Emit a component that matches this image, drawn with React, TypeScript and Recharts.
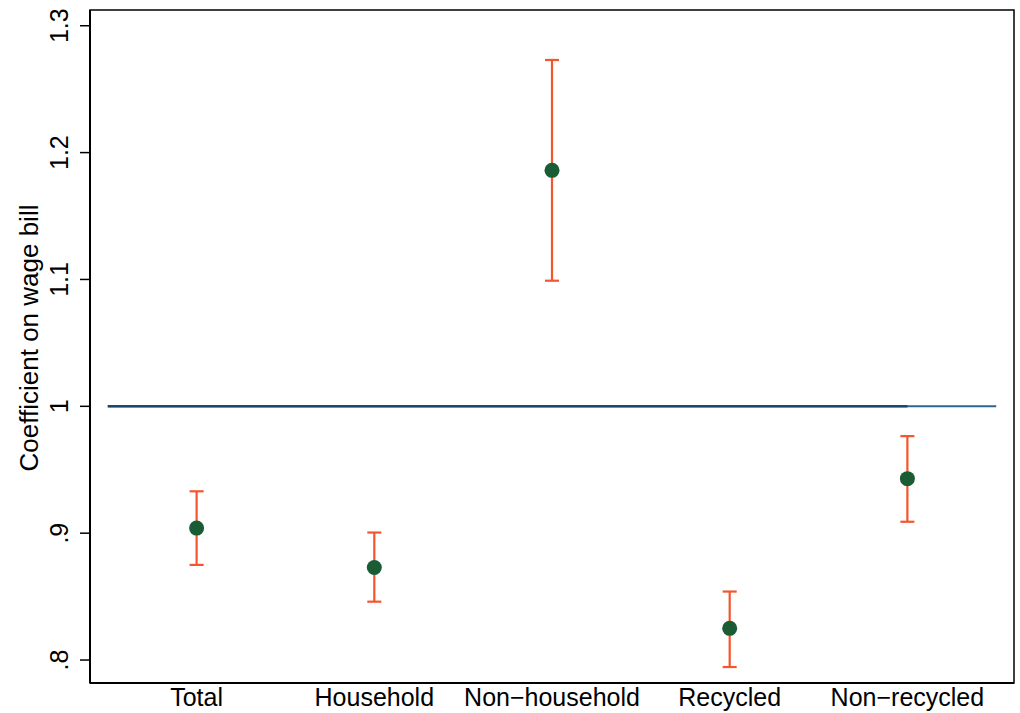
import {
  ComposedChart,
  Scatter,
  ErrorBar,
  XAxis,
  YAxis,
  ReferenceLine,
  ReferenceArea,
} from "recharts";

const categories = ["Total", "Household", "Non\u2212household", "Recycled", "Non\u2212recycled"];
const positions = [1, 2, 3, 4, 5];
const coef = [0.904, 0.873, 1.186, 0.825, 0.943];
const ciLow = [0.875, 0.846, 1.099, 0.7945, 0.909];
const ciHigh = [0.933, 0.9005, 1.273, 0.854, 0.9765];
const yTicks = [0.8, 0.9, 1, 1.1, 1.2, 1.3];
const yTickLabels = [".8", ".9", "1", "1.1", "1.2", "1.3"];
const refValue = 1;
const refSpan = [0.5, 5.5];

const data = positions.map((x, i) => ({
  x,
  y: coef[i],
  err: [coef[i] - ciLow[i], ciHigh[i] - coef[i]],
}));

const FONT = "'Liberation Sans', Arial, Helvetica, sans-serif";
const DOT = "#1a5c33";
const BAR = "#f5552c";
const LINE = "#1a476f";

function XTick({ x, payload }: any) {
  return (
    <text x={x} y={706} textAnchor="middle" fontSize={25} fontFamily={FONT} fill="#000">
      {categories[payload.value - 1]}
    </text>
  );
}

function YTick({ y, payload }: any) {
  const i = yTicks.indexOf(payload.value);
  const bx = 68;
  return (
    <text
      x={bx}
      y={y}
      transform={`rotate(-90, ${bx}, ${y})`}
      textAnchor="middle"
      fontSize={25}
      fontFamily={FONT}
      fill="#000"
    >
      {yTickLabels[i]}
    </text>
  );
}

export default function App() {
  return (
    <div style={{ position: "absolute", left: 0, top: 0, background: "#fff" }}>
      <ComposedChart
        width={1020}
        height={713}
        data={data}
        margin={{ top: 10, right: 6, left: 0, bottom: 0 }}
      >
        <XAxis
          type="number"
          dataKey="x"
          domain={[0.4, 5.6]}
          ticks={positions}
          tick={<XTick />}
          tickLine={false}
          axisLine={{ stroke: "#000", strokeWidth: 2 }}
          height={30}
          allowDataOverflow
        />
        <YAxis
          type="number"
          dataKey="y"
          domain={[0.7819, 1.3124]}
          ticks={yTicks}
          tick={<YTick />}
          tickSize={10}
          tickLine={{ stroke: "#000", strokeWidth: 1.5 }}
          axisLine={{ stroke: "#000", strokeWidth: 2 }}
          width={90}
          allowDataOverflow
          label={
            <text
              x={37}
              y={346}
              transform="rotate(-90, 37, 346)"
              textAnchor="middle"
              fontSize={26}
              fontFamily={FONT}
              fill="#000"
            >
              Coefficient on wage bill
            </text>
          }
        />
        <ReferenceArea
          x1={0.4}
          x2={5.6}
          y1={0.7819}
          y2={1.3124}
          fill="none"
          stroke="#000"
          strokeWidth={1.5}
          ifOverflow="visible"
        />
        <ReferenceLine
          segment={[
            { x: refSpan[0], y: refValue },
            { x: refSpan[1], y: refValue },
          ]}
          stroke="#2f6592"
          strokeWidth={2}
        />
        <ReferenceLine
          segment={[
            { x: refSpan[0], y: refValue },
            { x: positions[4], y: refValue },
          ]}
          stroke={LINE}
          strokeWidth={2.5}
        />
        <Scatter
          dataKey="y"
          isAnimationActive={false}
          shape={(p: any) => <circle cx={p.cx} cy={p.cy} r={7.5} fill={DOT} />}
        />
        <Scatter dataKey="y" isAnimationActive={false} shape={() => <g />}>
          <ErrorBar dataKey="err" direction="y" width={7} stroke={BAR} strokeWidth={2.2} />
        </Scatter>
      </ComposedChart>
    </div>
  );
}
